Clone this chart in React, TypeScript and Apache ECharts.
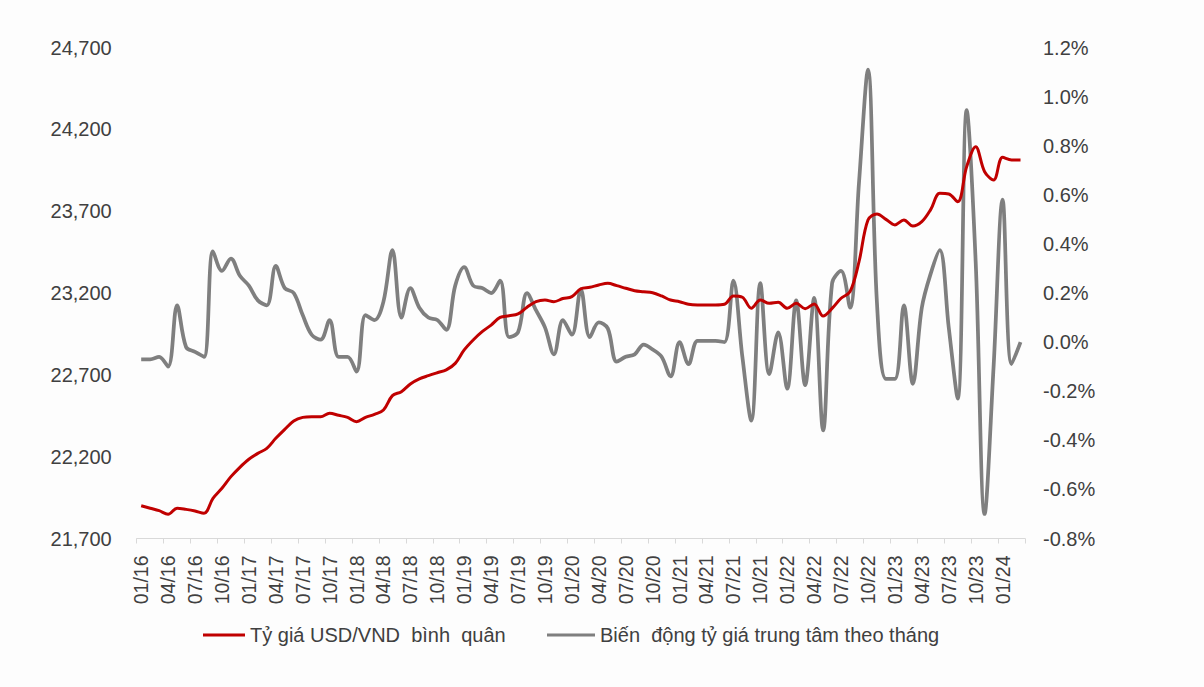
import React, { useEffect, useRef } from "react";
import * as echarts from "echarts";

const categories: string[] = [
  "01/16","02/16","03/16","04/16","05/16","06/16","07/16","08/16","09/16","10/16","11/16","12/16",
  "01/17","02/17","03/17","04/17","05/17","06/17","07/17","08/17","09/17","10/17","11/17","12/17",
  "01/18","02/18","03/18","04/18","05/18","06/18","07/18","08/18","09/18","10/18","11/18","12/18",
  "01/19","02/19","03/19","04/19","05/19","06/19","07/19","08/19","09/19","10/19","11/19","12/19",
  "01/20","02/20","03/20","04/20","05/20","06/20","07/20","08/20","09/20","10/20","11/20","12/20",
  "01/21","02/21","03/21","04/21","05/21","06/21","07/21","08/21","09/21","10/21","11/21","12/21",
  "01/22","02/22","03/22","04/22","05/22","06/22","07/22","08/22","09/22","10/22","11/22","12/22",
  "01/23","02/23","03/23","04/23","05/23","06/23","07/23","08/23","09/23","10/23","11/23","12/23",
  "01/24","02/24","03/24",
];

// Tỷ giá USD/VND bình quân (left axis)
const usdVnd: number[] = [
  21900, 21885, 21870, 21848, 21885, 21878, 21868, 21854, 21945, 22007, 22078, 22135,
  22184, 22220, 22251, 22312, 22367, 22418, 22440, 22444, 22444, 22465, 22453, 22440,
  22414, 22440, 22459, 22485, 22573, 22597, 22644, 22675, 22695, 22713, 22730, 22770,
  22852, 22913, 22964, 23004, 23051, 23061, 23072, 23113, 23147, 23157, 23147, 23166,
  23178, 23226, 23235, 23249, 23259, 23245, 23229, 23214, 23208, 23202, 23182, 23157,
  23147, 23131, 23127, 23127, 23127, 23131, 23182, 23174, 23107, 23157, 23137, 23143,
  23107, 23137, 23104, 23133, 23059, 23106, 23168, 23208, 23391, 23646, 23683, 23650,
  23616, 23646, 23609, 23636, 23711, 23809, 23805, 23758, 23972, 24094, 23941, 23890,
  24029, 24013, 24013,
];

// Biến động tỷ giá trung tâm theo tháng (%, right axis)
const centralChange: number[] = [
  -0.07, -0.07, -0.06, -0.10, 0.15, -0.02, -0.04, -0.06, 0.37, 0.29, 0.34, 0.27,
  0.23, 0.17, 0.15, 0.31, 0.22, 0.20, 0.11, 0.03, 0.01, 0.09, -0.06, -0.06,
  -0.12, 0.11, 0.09, 0.165, 0.375, 0.10, 0.22, 0.14, 0.10, 0.09, 0.05, 0.23,
  0.305, 0.23, 0.22, 0.20, 0.25, 0.02, 0.04, 0.20, 0.13, 0.06, -0.05, 0.09,
  0.03, 0.215, 0.02, 0.08, 0.056, -0.08, -0.06, -0.05, -0.01, -0.03, -0.06, -0.14,
  0.00, -0.09, 0.005, 0.005, 0.005, 0.00, 0.25, -0.06, -0.32, 0.24, -0.13, 0.04,
  -0.19, 0.17, -0.175, 0.18, -0.36, 0.24, 0.29, 0.14, 0.65, 1.11, 0.16, -0.15,
  -0.15, 0.15, -0.17, 0.14, 0.28, 0.375, 0.06, -0.23, 0.945, 0.33, -0.70, -0.10,
  0.58, -0.09, 0.00,
];

const seriesNames: string[] = [
  "Tỷ giá USD/VND  bình  quân",
  "Biến  động tỷ giá trung tâm theo tháng",
];

const FONT = "'Liberation Sans', Arial, sans-serif";
const TEXT_COLOR = "#404040";

export default function App() {
  const ref = useRef<HTMLDivElement>(null);

  useEffect(() => {
    if (!ref.current) return;
    const chart = echarts.init(ref.current, undefined, { renderer: "svg" });
    const legendBase = {
      top: 625,
      padding: 0,
      itemHeight: 3,
      icon: "rect",
      textStyle: { fontSize: 20, color: TEXT_COLOR, fontFamily: FONT },
    };
    chart.setOption({
      animation: false,
      backgroundColor: "#fdfdfd",
      textStyle: { fontFamily: FONT },
      grid: { left: 136.7, right: 179, top: 47.5, bottom: 148.5, containLabel: false },
      legend: [
        { ...legendBase, left: 203, itemWidth: 42, data: [seriesNames[0]] },
        { ...legendBase, left: 547, itemWidth: 48, data: [seriesNames[1]] },
      ],
      xAxis: {
        type: "category",
        data: categories,
        boundaryGap: true,
        axisLine: { show: true, onZero: false, lineStyle: { color: "#d9d9d9", width: 1 } },
        axisTick: { show: true, interval: 2, length: 5, lineStyle: { color: "#d9d9d9" } },
        axisLabel: {
          interval: 2,
          rotate: 90,
          margin: 17,
          fontSize: 19.5,
          color: TEXT_COLOR,
          fontFamily: FONT,
        },
        splitLine: { show: false },
      },
      yAxis: [
        {
          type: "value",
          min: 21700,
          max: 24700,
          interval: 500,
          axisLine: { show: false },
          axisTick: { show: false },
          splitLine: { show: false },
          axisLabel: {
            margin: 25,
            fontSize: 20,
            color: TEXT_COLOR,
            fontFamily: FONT,
            formatter: (v: number) => Math.round(v).toLocaleString("en-US"),
          },
        },
        {
          type: "value",
          min: -0.8,
          max: 1.2,
          interval: 0.2,
          axisLine: { show: false },
          axisTick: { show: false },
          splitLine: { show: false },
          axisLabel: {
            margin: 18,
            fontSize: 20,
            color: TEXT_COLOR,
            fontFamily: FONT,
            formatter: (v: number) => v.toFixed(1) + "%",
          },
        },
      ],
      series: [
        {
          name: seriesNames[0],
          type: "line",
          yAxisIndex: 0,
          data: usdVnd,
          smooth: 0.35,
          showSymbol: false,
          symbol: "none",
          color: "#C00000",
          lineStyle: { color: "#C00000", width: 3 },
          z: 3,
        },
        {
          name: seriesNames[1],
          type: "line",
          yAxisIndex: 1,
          data: centralChange,
          smooth: 0.35,
          showSymbol: false,
          symbol: "none",
          color: "#7F7F7F",
          lineStyle: { color: "#7F7F7F", width: 3.75 },
          z: 2,
        },
      ],
    });
    return () => chart.dispose();
  }, []);

  return (
    <div
      ref={ref}
      style={{ position: "fixed", left: 0, top: 0, width: 1204, height: 687 }}
    />
  );
}
